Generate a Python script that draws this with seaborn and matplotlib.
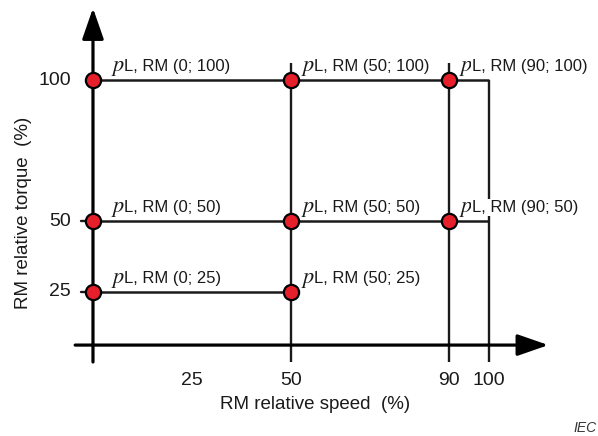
import matplotlib
matplotlib.use("Agg")
import matplotlib.pyplot as plt
import seaborn as sns
import pandas as pd

# measurement points (RM relative speed %, RM relative torque %)
speed_pts = [0, 50, 90, 0, 50, 90, 0, 50]
torque_pts = [100, 100, 100, 50, 50, 50, 25, 25]

speed_ticks = [25, 50, 90, 100]
torque_ticks = [25, 50, 100]

# grid lines: (torque, speed from, speed to) and (speed, torque from, torque to)
row_lines = [(100, 0, 100), (50, 0, 100), (25, 0, 50)]
col_lines = [(50, 0, 106), (90, 0, 106), (100, 0, 100)]

x_label = "RM relative speed  (%)"
y_label = "RM relative torque  (%)"

sns.set_theme(style="white")
plt.rcParams['font.family'] = ['Liberation Sans', 'DejaVu Sans']

df = pd.DataFrame({'speed': speed_pts, 'torque': torque_pts})
df['label'] = ["L, RM (%d; %d)" % (s, t) for s, t in zip(speed_pts, torque_pts)]

ink = '#1a1a1a'
fig = plt.figure(figsize=(5.98, 4.36), dpi=100)
ax = fig.add_axes([0, 0, 1, 1])

for t, x0, x1 in row_lines:
    ax.plot([x0, x1], [t, t], color=ink, lw=1.8, solid_capstyle='butt', zorder=2)
for s, y0, y1 in col_lines:
    ax.plot([s, s], [y0, y1], color=ink, lw=1.7, solid_capstyle='butt', zorder=2)

# axes with arrows
arrow = dict(arrowstyle='-|>,head_length=0.95,head_width=0.33', lw=2.3,
             color='black', shrinkA=0, shrinkB=0, mutation_scale=20)
ax.annotate("", xy=(0, 125.5), xytext=(0, 0), arrowprops=arrow, zorder=3)
ax.annotate("", xy=(115, 6), xytext=(-4.5, 6), arrowprops=arrow, zorder=3)

for t in torque_ticks:
    if t != 100:
        ax.plot([-3, 0], [t, t], color=ink, lw=1.7, zorder=2)
    ax.text(-5.6, t, str(t), ha='right', va='center', fontsize=14, color=ink)

for s in speed_ticks:
    ax.text(s, -6.7, str(s), ha='center', va='center', fontsize=14, color=ink)

ax.text(56, -15.2, x_label, ha='center', va='center', fontsize=13.5, color=ink)
ax.text(-17.6, 53, y_label, ha='center', va='center', rotation=90,
        fontsize=13.5, color=ink)

sns.scatterplot(data=df, x='speed', y='torque', ax=ax, s=120, color='#e5202a',
                edgecolor='black', linewidth=1.6, zorder=5, legend=False)
ax.set_xlim(-23.48, 127.53)
ax.set_ylim(-26.24, 128.37)
ax.axis('off')

for _, r in df.iterrows():
    dx = 18 if r['speed'] == 0 else 10
    white = r['speed'] == 90
    ax.annotate("$p$", (r['speed'], r['torque']), xytext=(dx, 9),
                textcoords='offset pixels', fontsize=16, math_fontfamily='stix',
                color=ink, va='baseline', ha='left', zorder=6)
    ax.annotate(r['label'], (r['speed'], r['torque']), xytext=(dx + 13, 9),
                textcoords='offset pixels', fontsize=12, color=ink,
                va='baseline', ha='left', zorder=6,
                bbox=dict(facecolor='white', edgecolor='none', pad=1) if white else None)

fig.text(573 / 598, 1 - 428 / 436, "IEC", fontsize=10, style='italic',
         color='#333333', ha='left', va='center')

fig.savefig("out.png", dpi=100)
